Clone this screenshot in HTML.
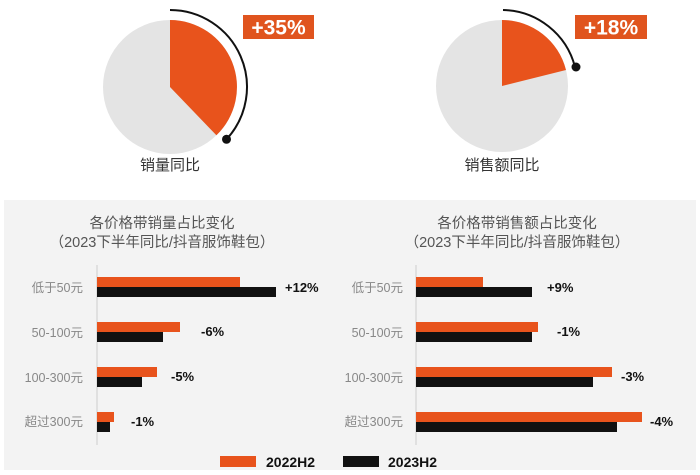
<!DOCTYPE html>
<html><head><meta charset="utf-8"><style>
body{margin:0;width:700px;height:470px;overflow:hidden;background:#fff}
</style></head><body>
<svg width="700" height="470" xmlns="http://www.w3.org/2000/svg" font-family="Liberation Sans, Noto Sans CJK SC, sans-serif">
<rect x="4" y="200" width="692" height="270" fill="#f3f3f3"/>
<!-- pie 1 -->
<circle cx="170" cy="87" r="67" fill="#e4e4e4"/>
<path d="M170 87 L170 20 A67 67 0 0 1 216.4 135.3 Z" fill="#e8531c"/>
<path d="M170 10 A77 77 0 0 1 226.5 139.3" fill="none" stroke="#111" stroke-width="2"/>
<circle cx="226.5" cy="139.3" r="4.5" fill="#111"/>
<rect x="243" y="15" width="71" height="24" fill="#e0541e"/>
<text x="278.5" y="34.5" font-size="21" font-weight="bold" fill="#fff" text-anchor="middle">+35%</text>
<text x="170" y="170" font-size="15" fill="#333" text-anchor="middle">销量同比</text>
<!-- pie 2 -->
<circle cx="502" cy="86" r="66" fill="#e4e4e4"/>
<path d="M502 86 L502 20 A66 66 0 0 1 566 70 Z" fill="#e8531c"/>
<path d="M503 10 A76 76 0 0 1 575 67" fill="none" stroke="#111" stroke-width="2"/>
<circle cx="576" cy="67" r="4.5" fill="#111"/>
<rect x="575" y="15" width="72" height="24" fill="#e0541e"/>
<text x="611" y="34.5" font-size="21" font-weight="bold" fill="#fff" text-anchor="middle">+18%</text>
<text x="502" y="170" font-size="15" fill="#333" text-anchor="middle">销售额同比</text>
<!-- titles -->
<g font-size="14.5" fill="#555" text-anchor="middle">
<text x="162" y="228">各价格带销量占比变化</text>
<text x="162" y="247">（2023下半年同比/抖音服饰鞋包）</text>
<text x="517" y="228">各价格带销售额占比变化</text>
<text x="517" y="247">（2023下半年同比/抖音服饰鞋包）</text>
</g>
<!-- left chart -->
<line x1="97" y1="265" x2="97" y2="445" stroke="#ccc"/>
<g fill="#e8531c">
<rect x="97" y="277" width="143" height="10"/><rect x="97" y="322" width="83" height="10"/>
<rect x="97" y="367" width="60" height="10"/><rect x="97" y="412" width="17" height="10"/>
</g>
<g fill="#111">
<rect x="97" y="287" width="179" height="10"/><rect x="97" y="332" width="66" height="10"/>
<rect x="97" y="377" width="45" height="10"/><rect x="97" y="422" width="13" height="10"/>
</g>
<g font-size="12.5" fill="#888" text-anchor="end">
<text x="83" y="292">低于50元</text><text x="83" y="337">50-100元</text>
<text x="83" y="382">100-300元</text><text x="83" y="426">超过300元</text>
</g>
<g font-size="13" font-weight="bold" fill="#111">
<text x="285" y="292">+12%</text><text x="201" y="336">-6%</text>
<text x="171" y="381">-5%</text><text x="131" y="426">-1%</text>
</g>
<!-- right chart -->
<line x1="416" y1="265" x2="416" y2="445" stroke="#ccc"/>
<g fill="#e8531c">
<rect x="416" y="277" width="67" height="10"/><rect x="416" y="322" width="122" height="10"/>
<rect x="416" y="367" width="196" height="10"/><rect x="416" y="412" width="226" height="10"/>
</g>
<g fill="#111">
<rect x="416" y="287" width="116" height="10"/><rect x="416" y="332" width="116" height="10"/>
<rect x="416" y="377" width="177" height="10"/><rect x="416" y="422" width="201" height="10"/>
</g>
<g font-size="12.5" fill="#888" text-anchor="end">
<text x="403" y="292">低于50元</text><text x="403" y="337">50-100元</text>
<text x="403" y="382">100-300元</text><text x="403" y="426">超过300元</text>
</g>
<g font-size="13" font-weight="bold" fill="#111">
<text x="547" y="292">+9%</text><text x="557" y="336">-1%</text>
<text x="621" y="381">-3%</text><text x="650" y="426">-4%</text>
</g>
<!-- legend -->
<rect x="220" y="456" width="36" height="11" fill="#e8531c"/>
<text x="266" y="467" font-size="14" font-weight="bold" fill="#111">2022H2</text>
<rect x="343" y="456" width="36" height="11" fill="#111"/>
<text x="388" y="467" font-size="14" font-weight="bold" fill="#111">2023H2</text>
</svg>
</body></html>
